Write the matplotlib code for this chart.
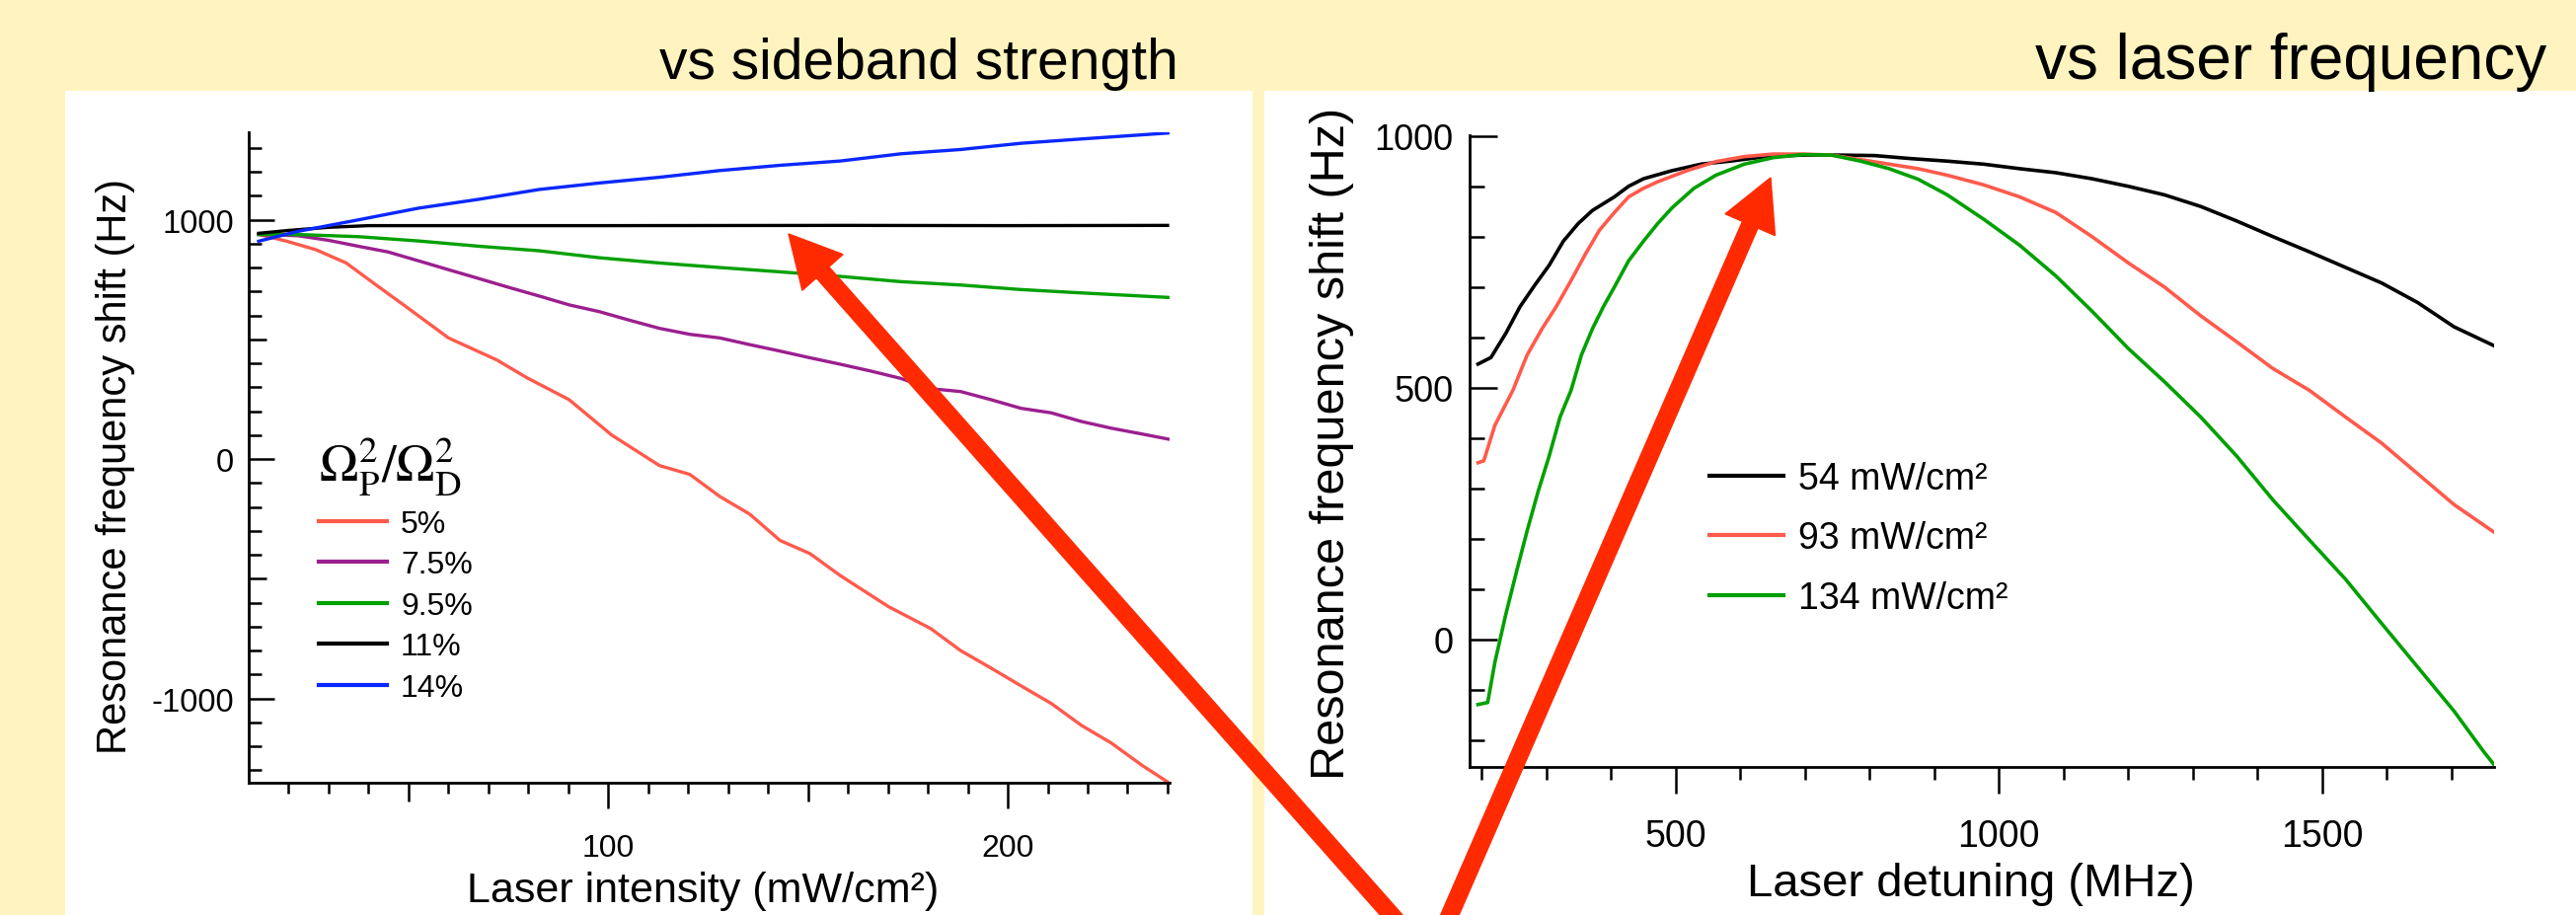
"""
Two-panel slide: resonance frequency shift vs laser intensity (left) and
vs laser detuning (right), on a pale yellow background with red arrows.
"""
import matplotlib
matplotlib.use("Agg")
import matplotlib.pyplot as plt
from matplotlib.patches import Rectangle, FancyArrow
from matplotlib.transforms import IdentityTransform

plt.rcParams["font.family"] = ["Liberation Sans", "DejaVu Sans"]
plt.rcParams["mathtext.fontset"] = "stix"
plt.rcParams["axes.unicode_minus"] = False

W, H = 2610, 928
BG = "#FFF4C0"
ARROW_RED = "#FF2A00"

# ---------------------------------------------------------------------------
# Left panel data: shift (Hz) vs laser intensity (mW/cm^2)
# ---------------------------------------------------------------------------
ratio_labels = ["5%", "7.5%", "9.5%", "11%", "14%"]
ratio_colors = ["#FF5A4C", "#9B1F8E", "#00A000", "#000000", "#0A28FF"]

i5_x = [12.5, 19.3, 26.9, 34.4, 41.9, 49.5, 60.0, 72.1, 79.6, 90.2, 100.8,
        112.8, 120.4, 127.9, 135.4, 143.0, 150.5, 158.1, 170.1, 180.7, 188.2,
        195.8, 203.3, 210.9, 218.4, 225.9, 233.5, 240.3]
i5_y = [938, 911, 874, 819, 727, 635, 506, 414, 340, 248, 101,
        -27, -64, -156, -230, -340, -395, -487, -616, -708, -800,
        -873, -947, -1021, -1112, -1186, -1278, -1352]

i75_x = [12.5, 22.3, 29.9, 37.4, 44.9, 52.5, 60.0, 67.6, 75.1, 82.7, 90.2,
         97.7, 105.3, 112.8, 120.4, 127.9, 135.4, 143.0, 150.5, 158.1, 165.6,
         173.2, 180.7, 188.2, 195.8, 203.3, 210.9, 218.4, 225.9, 233.5, 240.3]
i75_y = [938, 933, 914, 889, 865, 828, 791, 754, 717, 681, 644,
         616, 580, 546, 521, 506, 478, 451, 423, 396, 368,
         337, 294, 282, 248, 212, 193, 157, 129, 105, 83]

i95_x = [12.5, 22.3, 37.4, 52.5, 67.6, 82.7, 97.7, 112.8, 127.9, 143.0,
         158.1, 173.2, 188.2, 203.3, 218.4, 240.3]
i95_y = [938, 938, 929, 911, 889, 870, 841, 819, 800, 782,
         763, 741, 727, 708, 694, 675]

i11_x = [12.5, 20, 30, 40, 60, 100, 160, 200, 240]
i11_y = [943, 955, 968, 975, 975, 975, 976, 975, 976]

i14_x = [12.5, 22.3, 37.4, 52.5, 67.6, 82.7, 97.7, 112.8, 127.9, 143.0,
         158.1, 173.2, 188.2, 203.3, 218.4, 240.3]
i14_y = [910, 951, 999, 1048, 1085, 1126, 1153, 1177, 1205, 1227,
         1245, 1275, 1293, 1319, 1337, 1362]

left_x = [i5_x, i75_x, i95_x, i11_x, i14_x]
left_y = [i5_y, i75_y, i95_y, i11_y, i14_y]

# ---------------------------------------------------------------------------
# Right panel data: shift (Hz) vs laser detuning (MHz)
# ---------------------------------------------------------------------------
power_labels = ["54 mW/cm²", "93 mW/cm²", "134 mW/cm²"]
power_colors = ["#000000", "#FF5A4C", "#00A000"]

d54_x = [194, 214, 237, 259, 282, 304, 326, 349, 371, 405, 427, 450, 494,
         539, 584, 640, 696, 752, 808, 864, 920, 976, 1032, 1088, 1144,
         1200, 1256, 1312, 1368, 1424, 1480, 1536, 1592, 1648, 1704, 1765]
d54_y = [547, 560, 608, 661, 704, 743, 791, 826, 852, 879, 900, 915, 931,
         944, 950, 959, 962, 962, 961, 955, 950, 944, 935, 927, 915,
         900, 883, 860, 831, 800, 770, 739, 708, 669, 621, 584]

d93_x = [194, 203, 220, 248, 270, 293, 315, 338, 360, 382, 405, 427, 450,
         472, 517, 562, 606, 651, 696, 741, 786, 830, 875, 920, 976, 1032,
         1088, 1144, 1200, 1256, 1312, 1368, 1424, 1480, 1536, 1592, 1648,
         1704, 1765]
d93_y = [351, 355, 425, 495, 565, 617, 661, 713, 765, 813, 848, 879, 896,
         909, 931, 949, 959, 964, 964, 962, 953, 944, 935, 922, 903, 879,
         848, 800, 748, 700, 643, 591, 538, 495, 442, 390, 329, 268, 214]

d134_x = [194, 209, 220, 237, 254, 270, 287, 304, 321, 338, 354, 371, 388,
          405, 427, 450, 472, 494, 528, 562, 606, 651, 696, 741, 786, 830,
          875, 920, 976, 1032, 1088, 1144, 1200, 1256, 1312, 1368, 1424,
          1480, 1536, 1592, 1648, 1704, 1749, 1765]
d134_y = [-129, -125, -46, 50, 137, 216, 294, 364, 442, 495, 565, 617, 661,
          700, 752, 791, 826, 857, 896, 922, 944, 957, 963, 962, 950, 935,
          914, 883, 835, 783, 722, 652, 578, 512, 442, 364, 277, 198, 120,
          32, -55, -142, -221, -247]

right_x = [d54_x, d93_x, d134_x]
right_y = [d54_y, d93_y, d134_y]

# arrows: (tail, tip) in image pixels (origin top-left)
arrows = [((1438, 960), (799, 238)), ((1455, 960), (1794, 181))]


def fx(x):
    return x / W


def fy(y):
    return 1 - y / H


fig = plt.figure(figsize=(W / 100, H / 100), dpi=100, facecolor=BG)

# white slide panels
fig.add_artist(Rectangle((fx(66), 0), fx(1269 - 66), fy(93), transform=fig.transFigure,
                         facecolor="white", edgecolor="none", zorder=0))
fig.add_artist(Rectangle((fx(1281), 0), fx(W - 1281), fy(93), transform=fig.transFigure,
                         facecolor="white", edgecolor="none", zorder=0))

fig.text(fx(1194), fy(80), "vs sideband strength", ha="right", va="baseline", fontsize=41)
fig.text(fx(2580), fy(80), "vs laser frequency", ha="right", va="baseline", fontsize=46)


def style_axes(ax, lw=2.0):
    ax.set_facecolor("none")
    for side in ("top", "right"):
        ax.spines[side].set_visible(False)
    for side in ("left", "bottom"):
        ax.spines[side].set_linewidth(lw)


# ------------------------------ left panel ---------------------------------
ax1 = fig.add_axes([fx(252), fy(794), fx(1185 - 252), (794 - 135) / H])
style_axes(ax1)
for xs, ys, c, lab in zip(left_x, left_y, ratio_colors, ratio_labels):
    ax1.plot(xs, ys, color=c, lw=2.4, label=lab)
ax1.set_xlim(10, 240.5)
ax1.set_ylim(-1352, 1365)
ax1.set_xticks([100, 200])
ax1.set_xticks([v for v in range(20, 241, 10) if v % 50], minor=True)
ax1.set_yticks([-1000, 0, 1000])
ax1.set_yticks([v for v in range(-1300, 1301, 100) if v % 500], minor=True)
ax1.tick_params(axis="x", which="major", direction="out", length=18.7, width=1.8,
                labelsize=23, pad=18)
ax1.tick_params(axis="x", which="minor", direction="out", length=8, width=1.8)
ax1.tick_params(axis="y", which="major", direction="in", length=18.7, width=1.8,
                labelsize=23.5, pad=11)
ax1.tick_params(axis="y", which="minor", direction="in", length=9.4, width=1.8)
sx = ax1.secondary_xaxis("bottom")
sx.set_xticks([50, 150])
sx.tick_params(direction="out", length=13.7, width=1.8, labelbottom=False)
sx.spines["bottom"].set_visible(False)
sy = ax1.secondary_yaxis("left")
sy.set_yticks([-500, 500])
sy.tick_params(direction="in", length=13, width=1.8, labelleft=False)
sy.spines["left"].set_visible(False)

ax1.set_xlabel("Laser intensity (mW/cm²)", fontsize=31, va="baseline")
ax1.xaxis.set_label_coords((712 - 252) / 933, -(914 - 794) / 659)
ax1.set_ylabel("Resonance frequency shift (Hz)", fontsize=30)
ax1.yaxis.set_label_coords(-(252 - 137) / 933, (794 - 472) / 659)

leg1 = ax1.legend(loc="upper left", bbox_to_anchor=(fx(323), fy(442)),
                  bbox_transform=fig.transFigure, frameon=False, fontsize=23,
                  title=r"$\Omega^2_\mathrm{P}/\Omega^2_\mathrm{D}$", title_fontsize=38,
                  alignment="left", handlelength=2.15, handletextpad=0.45,
                  labelspacing=0.36, borderpad=0, borderaxespad=0)
for line in leg1.get_lines():
    line.set_linewidth(3)

# ------------------------------ right panel --------------------------------
ax2 = fig.add_axes([fx(1489), fy(778), fx(2527 - 1489), (778 - 137.7) / H])
style_axes(ax2)
for xs, ys, c, lab in zip(right_x, right_y, power_colors, power_labels):
    ax2.plot(xs, ys, color=c, lw=2.6, label=lab)
ax2.set_xlim(181, 1766)
ax2.set_ylim(-253, 1002)
ax2.set_xticks([500, 1000, 1500])
ax2.set_xticks([v for v in range(200, 1701, 100) if v % 500], minor=True)
ax2.set_yticks([0, 500, 1000])
ax2.set_yticks([v for v in range(-200, 1000, 100) if v % 500], minor=True)
ax2.tick_params(axis="x", which="major", direction="out", length=19.4, width=1.8,
                labelsize=27, pad=18)
ax2.tick_params(axis="x", which="minor", direction="out", length=9.4, width=1.8)
ax2.tick_params(axis="y", which="major", direction="in", length=20, width=1.8,
                labelsize=26, pad=12)
ax2.tick_params(axis="y", which="minor", direction="in", length=10.8, width=1.8)

ax2.set_xlabel("Laser detuning (MHz)", fontsize=34, va="baseline")
ax2.xaxis.set_label_coords((1997 - 1489) / 1038, -(908 - 778) / 640.3)
ax2.set_ylabel("Resonance frequency shift (Hz)", fontsize=35)
ax2.yaxis.set_label_coords(-(1489 - 1372) / 1038, (778 - 449) / 640.3)

leg2 = ax2.legend(loc="upper left", bbox_to_anchor=(fx(1732), fy(468)),
                  bbox_transform=fig.transFigure, frameon=False, fontsize=27,
                  handlelength=2.0, handletextpad=0.4, labelspacing=0.65,
                  borderpad=0, borderaxespad=0)
for line in leg2.get_lines():
    line.set_linewidth(3)

# ------------------------------ red arrows ---------------------------------
for (tx, ty), (hx, hy) in arrows:
    fig.add_artist(FancyArrow(tx, H - ty, hx - tx, ty - hy, width=17, head_width=55,
                              head_length=52, length_includes_head=True,
                              color=ARROW_RED, transform=IdentityTransform(),
                              zorder=10))

fig.savefig("out.png", dpi=100, facecolor=BG)
